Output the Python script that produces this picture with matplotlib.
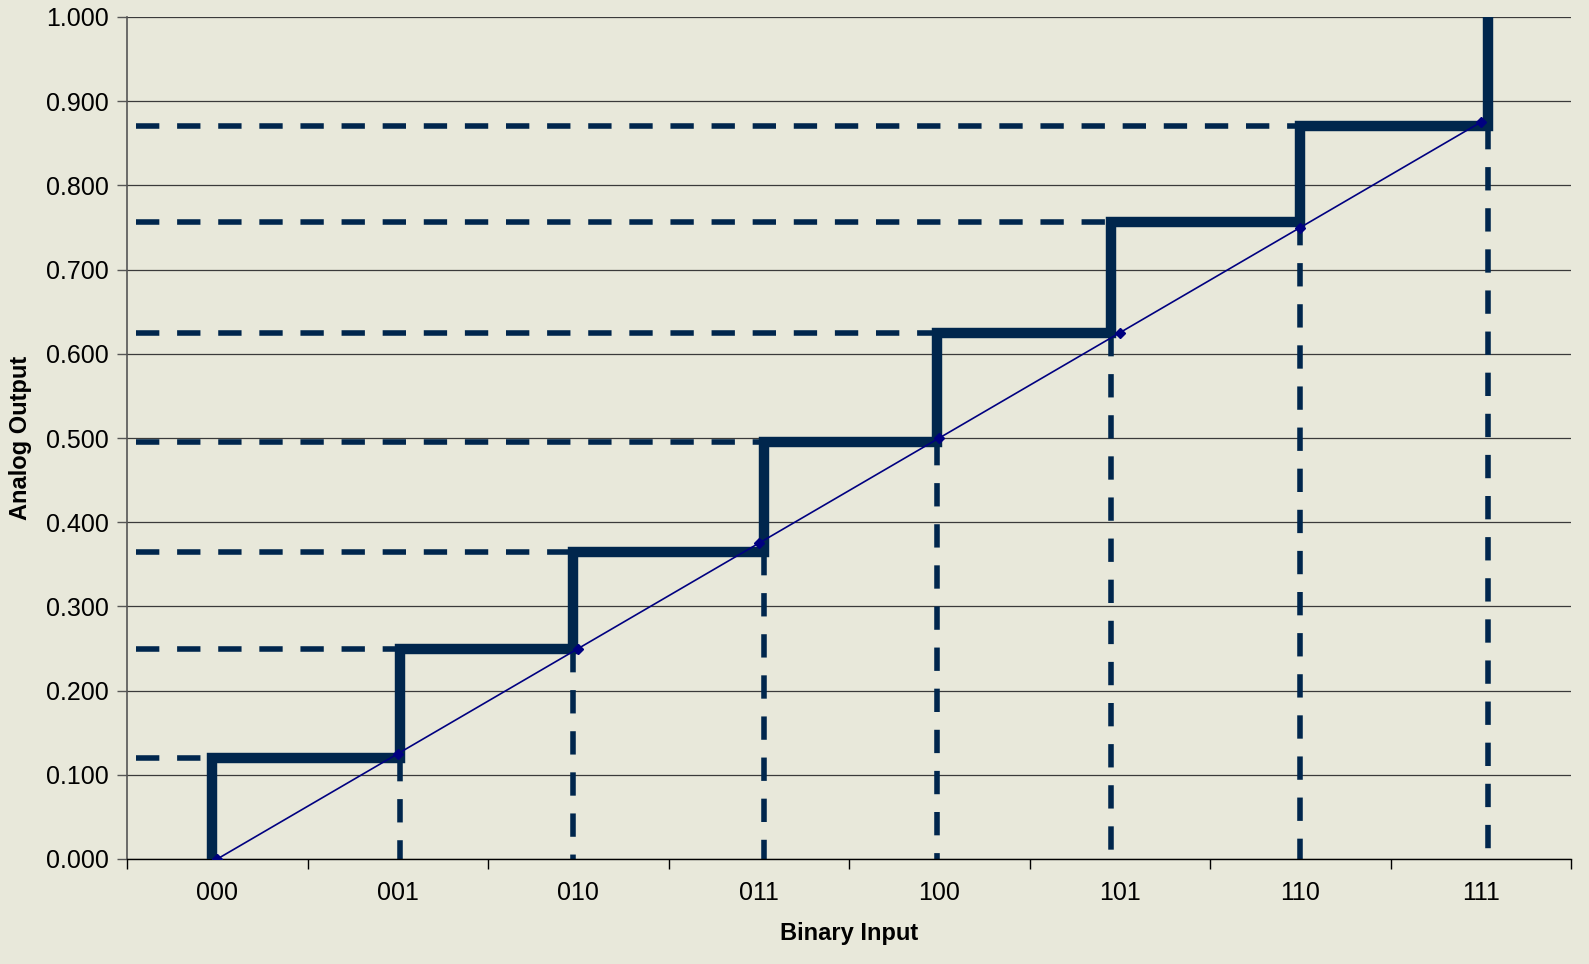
import matplotlib
matplotlib.use("Agg")
import matplotlib.pyplot as plt
import numpy as np

# ---- data ----
categories = ["000", "001", "010", "011", "100", "101", "110", "111"]
ideal_values = [0.000, 0.125, 0.250, 0.375, 0.500, 0.625, 0.750, 0.875]
step_levels = [0.120, 0.250, 0.365, 0.495, 0.625, 0.757, 0.870, 1.000]
step_positions = [-0.03, 1.01, 1.97, 3.03, 3.99, 4.95, 6.00, 7.04]
y_ticks = [0.0, 0.1, 0.2, 0.3, 0.4, 0.5, 0.6, 0.7, 0.8, 0.9, 1.0]

bg = "#E8E8DA"
navy = "#00264D"

plt.rcParams['font.family'] = ['Liberation Sans', 'DejaVu Sans']

fig = plt.figure(figsize=(15.89, 9.64), dpi=100, facecolor=bg)
ax = fig.add_axes([127 / 1589, 1 - 859 / 964, (1571 - 127) / 1589, (859 - 17) / 964])
ax.set_facecolor(bg)

x = np.arange(len(categories))

# horizontal grid
for yv in y_ticks:
    ax.axhline(yv, color="#3a3a3a", lw=0.9, zorder=1)

# dashed horizontal guides (from left to each step corner)
for i in range(len(step_levels) - 1):
    ax.plot([-0.45, step_positions[i + 1] - 0.04], [step_levels[i], step_levels[i]],
            color=navy, lw=4.0, linestyle=(0, (4.2, 3.2)), solid_capstyle="butt",
            dash_capstyle="butt", zorder=2)

# dashed vertical guides (from each step corner down to 0)
for i in range(1, len(step_positions)):
    ax.plot([step_positions[i], step_positions[i]], [step_levels[i - 1], 0.0],
            color=navy, lw=4.0, linestyle=(0, (4.2, 3.2)), dash_capstyle="butt", zorder=2)

# staircase
sx, sy = [step_positions[0]], [0.0]
for i in range(len(step_levels)):
    sx += [step_positions[i], step_positions[i + 1] if i + 1 < len(step_positions) else step_positions[i]]
    sy += [step_levels[i], step_levels[i]]
sx = sx[:-1]
sy = sy[:-1]
ax.plot(sx, sy, color=navy, lw=7.5, solid_joinstyle="miter", solid_capstyle="butt", zorder=4)

# ideal linear response
ax.plot(x, ideal_values, color="#000080", lw=1.2, marker="D", markersize=5,
        markerfacecolor="#000080", markeredgecolor="#000080", zorder=5)

ax.set_xlim(-0.5, len(categories) - 0.5)
ax.set_ylim(0, 1.0)
ax.set_yticks(y_ticks)
ax.set_yticklabels([f"{v:.3f}" for v in y_ticks], fontsize=18)
ax.set_xticks(np.arange(-0.5, len(categories), 1.0))
ax.set_xticklabels([])
ax.set_xticks(x, minor=True)
ax.set_xticklabels(categories, minor=True, fontsize=18)
ax.tick_params(axis="x", which="major", length=7, width=1, color="black", direction="out")
ax.tick_params(axis="x", which="minor", length=0, pad=16)
ax.tick_params(axis="y", length=7, width=1, color="#555555", pad=6)

for s in ["top", "right"]:
    ax.spines[s].set_visible(False)
ax.spines["left"].set_color("#555555")
ax.spines["left"].set_linewidth(1.2)
ax.spines["bottom"].set_color("black")
ax.spines["bottom"].set_linewidth(1.0)

ax.set_xlabel("Binary Input", fontsize=17, fontweight="bold", labelpad=12)
ax.set_ylabel("Analog Output", fontsize=17, fontweight="bold", labelpad=10)

fig.savefig("out.png", dpi=100, facecolor=bg)
